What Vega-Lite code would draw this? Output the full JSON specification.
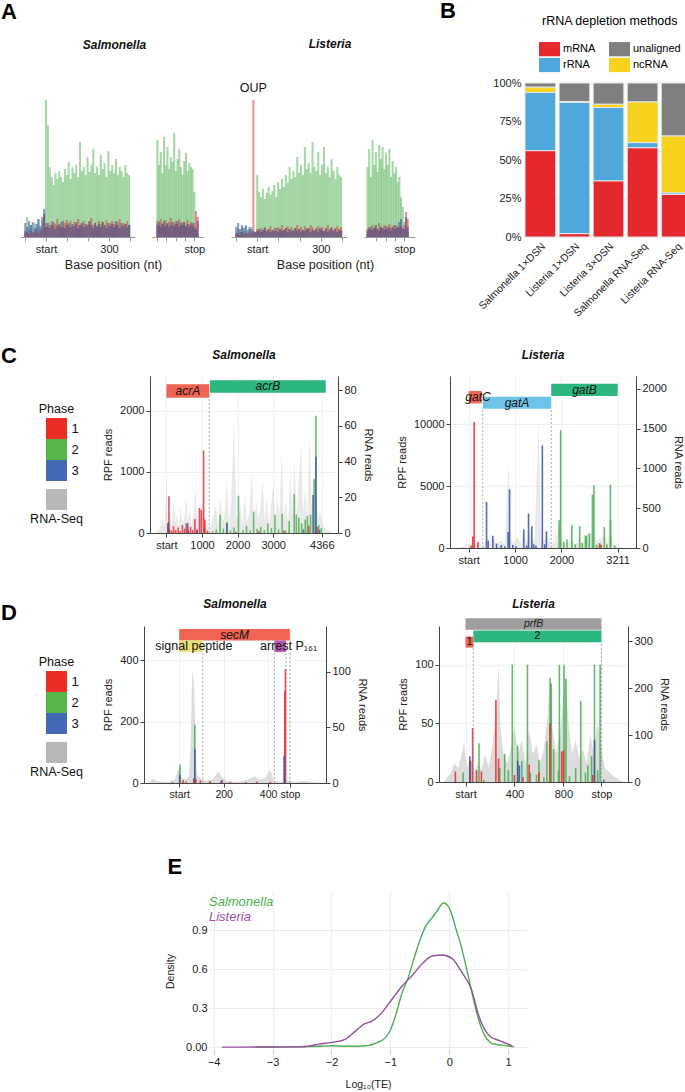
{
"$schema": "https://vega.github.io/schema/vega-lite/v6.json",
"background": "white",
"padding": {"left": 1, "top": 0, "right": 0, "bottom": 0},
"config": {
  "font": "Liberation Sans",
  "view": {"stroke": null},
  "axis": {"labelFontSize": 11, "titleFontSize": 11, "titleFontWeight": "normal", "labelColor": "#222", "titleColor": "#222", "domainColor": "#444", "tickColor": "#444", "tickSize": 4, "gridColor": "#efefef", "grid": false, "labelOverlap": false, "labelFlush": false},
  "title": {"fontSize": 12, "fontWeight": "bold", "fontStyle": "italic", "color": "#111", "frame": "group"}
},
"datasets": {
  "aSS": [
    {"p":-99,"g":6,"r":4,"b":14},{"p":-90,"g":20,"r":5,"b":10},{"p":-81,"g":8,"r":3,"b":16},{"p":-72,"g":12,"r":6,"b":12},{"p":-63,"g":5,"r":4,"b":15},{"p":-54,"g":14,"r":5,"b":9},{"p":-45,"g":10,"r":7,"b":13},{"p":-36,"g":18,"r":4,"b":18},{"p":-27,"g":9,"r":6,"b":11},{"p":-18,"g":16,"r":8,"b":20},{"p":-9,"g":24,"r":22,"b":28},
    {"p":0,"g":137,"r":14,"b":10},{"p":9,"g":112,"r":10,"b":14},{"p":18,"g":70,"r":12,"b":9},{"p":27,"g":60,"r":16,"b":12},{"p":36,"g":52,"r":11,"b":15},{"p":45,"g":64,"r":13,"b":8},{"p":54,"g":58,"r":18,"b":11},{"p":63,"g":66,"r":12,"b":13},{"p":72,"g":60,"r":15,"b":10},{"p":81,"g":55,"r":10,"b":16},{"p":90,"g":68,"r":14,"b":9},{"p":99,"g":62,"r":17,"b":12},{"p":108,"g":75,"r":12,"b":14},{"p":117,"g":58,"r":16,"b":10},{"p":126,"g":70,"r":11,"b":13},{"p":135,"g":64,"r":15,"b":11},{"p":144,"g":72,"r":13,"b":15},{"p":153,"g":60,"r":18,"b":9},{"p":162,"g":95,"r":12,"b":12},{"p":171,"g":66,"r":14,"b":14},{"p":180,"g":70,"r":16,"b":10},{"p":189,"g":62,"r":11,"b":13},{"p":198,"g":80,"r":13,"b":11},{"p":207,"g":65,"r":15,"b":16},{"p":216,"g":72,"r":19,"b":12},{"p":225,"g":88,"r":12,"b":9},{"p":234,"g":64,"r":14,"b":14},{"p":243,"g":70,"r":10,"b":11},{"p":252,"g":62,"r":16,"b":13},{"p":261,"g":82,"r":13,"b":10},{"p":270,"g":68,"r":15,"b":15},{"p":279,"g":74,"r":12,"b":12},{"p":288,"g":60,"r":17,"b":9},{"p":297,"g":86,"r":11,"b":14},{"p":306,"g":66,"r":14,"b":11},{"p":315,"g":72,"r":16,"b":13},{"p":324,"g":64,"r":13,"b":10},{"p":333,"g":78,"r":12,"b":16},{"p":342,"g":62,"r":15,"b":12},{"p":351,"g":70,"r":18,"b":9},{"p":360,"g":66,"r":11,"b":14},{"p":369,"g":60,"r":14,"b":11},{"p":378,"g":72,"r":13,"b":13},{"p":387,"g":64,"r":16,"b":10},{"p":396,"g":62,"r":12,"b":12}
  ],
  "aSP": [
    {"p":-198,"g":97,"r":16,"b":12},{"p":-189,"g":72,"r":12,"b":15},{"p":-180,"g":85,"r":18,"b":10},{"p":-171,"g":64,"r":14,"b":13},{"p":-162,"g":100,"r":11,"b":16},{"p":-153,"g":72,"r":17,"b":11},{"p":-144,"g":90,"r":13,"b":14},{"p":-135,"g":68,"r":15,"b":10},{"p":-126,"g":80,"r":19,"b":12},{"p":-117,"g":75,"r":12,"b":15},{"p":-108,"g":104,"r":14,"b":11},{"p":-99,"g":66,"r":16,"b":13},{"p":-90,"g":78,"r":13,"b":16},{"p":-81,"g":88,"r":18,"b":10},{"p":-72,"g":70,"r":12,"b":14},{"p":-63,"g":62,"r":15,"b":12},{"p":-54,"g":76,"r":14,"b":15},{"p":-45,"g":84,"r":11,"b":11},{"p":-36,"g":66,"r":17,"b":13},{"p":-27,"g":74,"r":13,"b":10},{"p":-18,"g":70,"r":15,"b":12},{"p":-9,"g":68,"r":12,"b":14},{"p":0,"g":45,"r":14,"b":10},{"p":9,"g":6,"r":26,"b":8},{"p":18,"g":4,"r":20,"b":16}
  ],
  "aLS": [
    {"p":-99,"g":4,"r":3,"b":10},{"p":-90,"g":8,"r":4,"b":14},{"p":-81,"g":5,"r":2,"b":8},{"p":-72,"g":10,"r":5,"b":12},{"p":-63,"g":6,"r":3,"b":9},{"p":-54,"g":12,"r":4,"b":11},{"p":-45,"g":4,"r":3,"b":7},{"p":-36,"g":8,"r":6,"b":10},{"p":-27,"g":10,"r":4,"b":8},{"p":-18,"g":6,"r":137,"b":6},{"p":-9,"g":5,"r":5,"b":5},
    {"p":0,"g":62,"r":8,"b":6},{"p":9,"g":45,"r":6,"b":8},{"p":18,"g":40,"r":9,"b":5},{"p":27,"g":48,"r":7,"b":7},{"p":36,"g":38,"r":10,"b":9},{"p":45,"g":44,"r":6,"b":6},{"p":54,"g":50,"r":8,"b":8},{"p":63,"g":42,"r":11,"b":5},{"p":72,"g":46,"r":7,"b":7},{"p":81,"g":52,"r":9,"b":6},{"p":90,"g":40,"r":6,"b":9},{"p":99,"g":55,"r":10,"b":5},{"p":108,"g":48,"r":8,"b":8},{"p":117,"g":58,"r":12,"b":6},{"p":126,"g":50,"r":7,"b":7},{"p":135,"g":62,"r":9,"b":9},{"p":144,"g":54,"r":11,"b":5},{"p":153,"g":70,"r":8,"b":8},{"p":162,"g":58,"r":10,"b":6},{"p":171,"g":66,"r":6,"b":7},{"p":180,"g":60,"r":9,"b":9},{"p":189,"g":80,"r":12,"b":6},{"p":198,"g":64,"r":8,"b":8},{"p":207,"g":72,"r":10,"b":5},{"p":216,"g":62,"r":7,"b":7},{"p":225,"g":90,"r":11,"b":6},{"p":234,"g":68,"r":9,"b":8},{"p":243,"g":74,"r":8,"b":9},{"p":252,"g":64,"r":12,"b":5},{"p":261,"g":95,"r":10,"b":7},{"p":270,"g":70,"r":7,"b":6},{"p":279,"g":66,"r":9,"b":8},{"p":288,"g":85,"r":11,"b":5},{"p":297,"g":62,"r":8,"b":9},{"p":306,"g":72,"r":10,"b":7},{"p":315,"g":90,"r":6,"b":6},{"p":324,"g":64,"r":9,"b":8},{"p":333,"g":70,"r":12,"b":5},{"p":342,"g":60,"r":8,"b":7},{"p":351,"g":78,"r":10,"b":9},{"p":360,"g":66,"r":7,"b":6},{"p":369,"g":58,"r":9,"b":8},{"p":378,"g":70,"r":11,"b":5},{"p":387,"g":62,"r":8,"b":7},{"p":396,"g":60,"r":10,"b":6}
  ],
  "aLP": [
    {"p":-198,"g":70,"r":8,"b":6},{"p":-189,"g":88,"r":10,"b":8},{"p":-180,"g":60,"r":7,"b":10},{"p":-171,"g":97,"r":12,"b":7},{"p":-162,"g":72,"r":9,"b":9},{"p":-153,"g":85,"r":11,"b":12},{"p":-144,"g":65,"r":8,"b":8},{"p":-135,"g":92,"r":14,"b":6},{"p":-126,"g":78,"r":10,"b":10},{"p":-117,"g":90,"r":9,"b":9},{"p":-108,"g":68,"r":12,"b":7},{"p":-99,"g":84,"r":8,"b":11},{"p":-90,"g":72,"r":10,"b":8},{"p":-81,"g":88,"r":13,"b":10},{"p":-72,"g":60,"r":9,"b":6},{"p":-63,"g":76,"r":11,"b":9},{"p":-54,"g":64,"r":8,"b":12},{"p":-45,"g":70,"r":12,"b":8},{"p":-36,"g":55,"r":10,"b":10},{"p":-27,"g":60,"r":9,"b":15},{"p":-18,"g":40,"r":11,"b":18},{"p":-9,"g":30,"r":8,"b":9},{"p":0,"g":15,"r":12,"b":8},{"p":9,"g":6,"r":25,"b":20},{"p":18,"g":4,"r":18,"b":10}
  ],
  "bData": [
    {"s":"Salmonella 1×DSN","t":"mRNA","v":56.1},{"s":"Salmonella 1×DSN","t":"rRNA","v":37.8},{"s":"Salmonella 1×DSN","t":"ncRNA","v":3.5},{"s":"Salmonella 1×DSN","t":"unaligned","v":2.6},
    {"s":"Listeria 1×DSN","t":"mRNA","v":2.2},{"s":"Listeria 1×DSN","t":"rRNA","v":85.2},{"s":"Listeria 1×DSN","t":"ncRNA","v":0.6},{"s":"Listeria 1×DSN","t":"unaligned","v":12.0},
    {"s":"Listeria 3×DSN","t":"mRNA","v":36.5},{"s":"Listeria 3×DSN","t":"rRNA","v":47.6},{"s":"Listeria 3×DSN","t":"ncRNA","v":2.2},{"s":"Listeria 3×DSN","t":"unaligned","v":13.7},
    {"s":"Salmonella RNA-Seq","t":"mRNA","v":58.0},{"s":"Salmonella RNA-Seq","t":"rRNA","v":3.3},{"s":"Salmonella RNA-Seq","t":"ncRNA","v":26.5},{"s":"Salmonella RNA-Seq","t":"unaligned","v":12.2},
    {"s":"Listeria RNA-Seq","t":"mRNA","v":27.6},{"s":"Listeria RNA-Seq","t":"rRNA","v":1.1},{"s":"Listeria RNA-Seq","t":"ncRNA","v":37.0},{"s":"Listeria RNA-Seq","t":"unaligned","v":34.3}
  ],
  "cSB": [
    {"x":1300,"y":30,"ph":"2"},{"x":1400,"y":60,"ph":"2"},{"x":1508,"y":300,"ph":"2"},{"x":1600,"y":70,"ph":"2"},{"x":1700,"y":180,"ph":"2"},{"x":1800,"y":40,"ph":"2"},{"x":1900,"y":90,"ph":"2"},{"x":2025,"y":610,"ph":"2"},{"x":2150,"y":50,"ph":"2"},{"x":2250,"y":120,"ph":"2"},{"x":2350,"y":40,"ph":"2"},{"x":2450,"y":350,"ph":"2"},{"x":2550,"y":70,"ph":"2"},{"x":2650,"y":100,"ph":"2"},{"x":2750,"y":50,"ph":"2"},{"x":2850,"y":160,"ph":"2"},{"x":2950,"y":80,"ph":"2"},{"x":3050,"y":300,"ph":"2"},{"x":3150,"y":60,"ph":"2"},{"x":3250,"y":320,"ph":"2"},{"x":3350,"y":40,"ph":"2"},{"x":3450,"y":200,"ph":"2"},{"x":3590,"y":640,"ph":"2"},{"x":3650,"y":300,"ph":"2"},{"x":3720,"y":250,"ph":"2"},{"x":3800,"y":160,"ph":"2"},{"x":3900,"y":220,"ph":"2"},{"x":3960,"y":280,"ph":"2"},{"x":4050,"y":300,"ph":"2"},{"x":4150,"y":880,"ph":"2"},{"x":4200,"y":1920,"ph":"2"},{"x":4280,"y":130,"ph":"2"},{"x":4350,"y":80,"ph":"2"},{"x":1070,"y":100,"ph":"2"},
    {"x":40,"y":160,"ph":"1"},{"x":71,"y":600,"ph":"1"},{"x":90,"y":60,"ph":"1"},{"x":150,"y":40,"ph":"1"},{"x":200,"y":110,"ph":"1"},{"x":260,"y":50,"ph":"1"},{"x":330,"y":90,"ph":"1"},{"x":390,"y":30,"ph":"1"},{"x":450,"y":130,"ph":"1"},{"x":510,"y":70,"ph":"1"},{"x":560,"y":160,"ph":"1"},{"x":620,"y":40,"ph":"1"},{"x":680,"y":100,"ph":"1"},{"x":740,"y":50,"ph":"1"},{"x":800,"y":230,"ph":"1"},{"x":860,"y":60,"ph":"1"},{"x":930,"y":410,"ph":"1"},{"x":980,"y":380,"ph":"1"},{"x":1045,"y":1350,"ph":"1"},{"x":1080,"y":220,"ph":"1"},{"x":1150,"y":40,"ph":"1"},{"x":1950,"y":20,"ph":"1"},{"x":2600,"y":30,"ph":"1"},{"x":3300,"y":40,"ph":"1"},{"x":4000,"y":120,"ph":"1"},{"x":4240,"y":100,"ph":"1"},
    {"x":55,"y":170,"ph":"3"},{"x":600,"y":160,"ph":"3"},{"x":860,"y":40,"ph":"3"},{"x":1700,"y":160,"ph":"3"},{"x":3850,"y":60,"ph":"3"},{"x":4120,"y":620,"ph":"3"},{"x":4200,"y":1250,"ph":"3"},{"x":4300,"y":50,"ph":"3"}
  ],
  "cSR": [
    {"x":-320,"y":0},{"x":-200,"y":2},{"x":-100,"y":8},{"x":-50,"y":3},{"x":0,"y":30},{"x":40,"y":5},{"x":100,"y":12},{"x":150,"y":4},{"x":200,"y":18},{"x":250,"y":6},{"x":300,"y":10},{"x":350,"y":3},{"x":400,"y":15},{"x":450,"y":5},{"x":500,"y":8},{"x":560,"y":20},{"x":600,"y":6},{"x":650,"y":14},{"x":700,"y":4},{"x":760,"y":10},{"x":820,"y":25},{"x":870,"y":5},{"x":920,"y":18},{"x":980,"y":8},{"x":1040,"y":22},{"x":1100,"y":6},{"x":1160,"y":4},{"x":1220,"y":2},{"x":1300,"y":8},{"x":1380,"y":15},{"x":1450,"y":4},{"x":1520,"y":20},{"x":1580,"y":6},{"x":1640,"y":12},{"x":1700,"y":30},{"x":1760,"y":5},{"x":1820,"y":18},{"x":1900,"y":62},{"x":1960,"y":10},{"x":2020,"y":8},{"x":2080,"y":16},{"x":2140,"y":4},{"x":2200,"y":22},{"x":2260,"y":6},{"x":2330,"y":12},{"x":2400,"y":35},{"x":2460,"y":5},{"x":2520,"y":18},{"x":2580,"y":8},{"x":2640,"y":14},{"x":2700,"y":30},{"x":2760,"y":6},{"x":2820,"y":20},{"x":2880,"y":4},{"x":2940,"y":15},{"x":3000,"y":28},{"x":3060,"y":6},{"x":3120,"y":20},{"x":3180,"y":10},{"x":3240,"y":45},{"x":3300,"y":8},{"x":3360,"y":18},{"x":3420,"y":5},{"x":3480,"y":35},{"x":3540,"y":10},{"x":3600,"y":41},{"x":3660,"y":8},{"x":3720,"y":30},{"x":3780,"y":50},{"x":3840,"y":12},{"x":3900,"y":25},{"x":3960,"y":8},{"x":4020,"y":55},{"x":4080,"y":15},{"x":4140,"y":30},{"x":4200,"y":20},{"x":4260,"y":8},{"x":4320,"y":12},{"x":4400,"y":4},{"x":4500,"y":2},{"x":4680,"y":0}
  ],
  "cLB": [
    {"x":1950,"y":2240,"ph":"2"},{"x":1983,"y":9530,"ph":"2"},{"x":2050,"y":500,"ph":"2"},{"x":2120,"y":700,"ph":"2"},{"x":2224,"y":1840,"ph":"2"},{"x":2300,"y":300,"ph":"2"},{"x":2394,"y":1780,"ph":"2"},{"x":2450,"y":400,"ph":"2"},{"x":2517,"y":1030,"ph":"2"},{"x":2540,"y":950,"ph":"2"},{"x":2600,"y":1160,"ph":"2"},{"x":2668,"y":4320,"ph":"2"},{"x":2700,"y":5080,"ph":"2"},{"x":2760,"y":250,"ph":"2"},{"x":2820,"y":400,"ph":"2"},{"x":2925,"y":1700,"ph":"2"},{"x":2980,"y":300,"ph":"2"},{"x":3055,"y":5130,"ph":"2"},{"x":3060,"y":2240,"ph":"2"},{"x":3150,"y":200,"ph":"2"},
    {"x":50,"y":200,"ph":"1"},{"x":85,"y":945,"ph":"1"},{"x":118,"y":10200,"ph":"1"},{"x":200,"y":490,"ph":"1"},{"x":2830,"y":350,"ph":"1"},{"x":2860,"y":250,"ph":"1"},
    {"x":384,"y":3730,"ph":"3"},{"x":420,"y":600,"ph":"3"},{"x":520,"y":1000,"ph":"3"},{"x":600,"y":350,"ph":"3"},{"x":700,"y":250,"ph":"3"},{"x":780,"y":150,"ph":"3"},{"x":850,"y":1300,"ph":"3"},{"x":881,"y":4750,"ph":"3"},{"x":950,"y":250,"ph":"3"},{"x":1020,"y":150,"ph":"3"},{"x":1187,"y":1510,"ph":"3"},{"x":1250,"y":200,"ph":"3"},{"x":1290,"y":2780,"ph":"3"},{"x":1360,"y":1760,"ph":"3"},{"x":1400,"y":300,"ph":"3"},{"x":1450,"y":200,"ph":"3"},{"x":1588,"y":8320,"ph":"3"},{"x":1640,"y":300,"ph":"3"},{"x":1676,"y":1350,"ph":"3"}
  ],
  "cLR": [
    {"x":-296,"y":0},{"x":-150,"y":15},{"x":-50,"y":30},{"x":0,"y":60},{"x":60,"y":20},{"x":118,"y":90},{"x":160,"y":30},{"x":220,"y":70},{"x":300,"y":20},{"x":384,"y":120},{"x":440,"y":40},{"x":520,"y":150},{"x":600,"y":60},{"x":700,"y":90},{"x":780,"y":40},{"x":860,"y":1086},{"x":900,"y":100},{"x":960,"y":50},{"x":1050,"y":140},{"x":1120,"y":60},{"x":1190,"y":180},{"x":1250,"y":70},{"x":1300,"y":250},{"x":1360,"y":120},{"x":1420,"y":80},{"x":1506,"y":1580},{"x":1560,"y":200},{"x":1620,"y":90},{"x":1700,"y":150},{"x":1760,"y":60},{"x":1850,"y":80},{"x":1950,"y":260},{"x":2000,"y":100},{"x":2080,"y":60},{"x":2150,"y":40},{"x":2224,"y":120},{"x":2300,"y":50},{"x":2394,"y":100},{"x":2450,"y":60},{"x":2517,"y":150},{"x":2600,"y":200},{"x":2668,"y":180},{"x":2700,"y":250},{"x":2760,"y":80},{"x":2850,"y":120},{"x":2925,"y":160},{"x":3000,"y":60},{"x":3055,"y":220},{"x":3120,"y":50},{"x":3200,"y":20},{"x":3300,"y":0}
  ],
  "dSB": [
    {"x":4,"y":60,"ph":"2"},{"x":70,"y":190,"ph":"2"},{"x":140,"y":6,"ph":"2"},{"x":475,"y":16,"ph":"2"},
    {"x":-30,"y":3,"ph":"1"},{"x":17,"y":10,"ph":"1"},{"x":30,"y":5,"ph":"1"},{"x":65,"y":15,"ph":"1"},{"x":75,"y":12,"ph":"1"},{"x":95,"y":8,"ph":"1"},{"x":137,"y":5,"ph":"1"},{"x":187,"y":6,"ph":"1"},{"x":230,"y":4,"ph":"1"},{"x":300,"y":3,"ph":"1"},{"x":350,"y":5,"ph":"1"},{"x":410,"y":4,"ph":"1"},{"x":478,"y":372,"ph":"1"},{"x":475,"y":300,"ph":"1"},
    {"x":2,"y":27,"ph":"3"},{"x":70,"y":111,"ph":"3"},{"x":193,"y":10,"ph":"3"},{"x":472,"y":89,"ph":"3"}
  ],
  "dSR": [
    {"x":-136,"y":0},{"x":-120,"y":4},{"x":-100,"y":2},{"x":-60,"y":1},{"x":-20,"y":3},{"x":0,"y":15},{"x":10,"y":5},{"x":30,"y":3},{"x":45,"y":6},{"x":52,"y":40},{"x":58,"y":95},{"x":62,"y":102},{"x":68,"y":80},{"x":74,"y":30},{"x":80,"y":8},{"x":95,"y":4},{"x":120,"y":2},{"x":150,"y":3},{"x":170,"y":9},{"x":178,"y":10},{"x":190,"y":6},{"x":210,"y":2},{"x":250,"y":1},{"x":290,"y":2},{"x":320,"y":4},{"x":340,"y":6},{"x":360,"y":3},{"x":390,"y":5},{"x":405,"y":11},{"x":415,"y":10},{"x":425,"y":2},{"x":460,"y":1},{"x":480,"y":3},{"x":500,"y":2},{"x":520,"y":1},{"x":560,"y":2},{"x":600,"y":1},{"x":638,"y":0}
  ],
  "dLB": [
    {"x":382,"y":100,"ph":"2"},{"x":506,"y":100,"ph":"2"},{"x":767,"y":100,"ph":"2"},{"x":805,"y":100,"ph":"2"},{"x":1054,"y":100,"ph":"2"},{"x":1100,"y":100,"ph":"2"},{"x":692,"y":88.6,"ph":"2"},{"x":700,"y":84,"ph":"2"},{"x":942,"y":69,"ph":"2"},{"x":821,"y":88,"ph":"2"},{"x":110,"y":33,"ph":"2"},{"x":426,"y":31,"ph":"2"},{"x":665,"y":35,"ph":"2"},{"x":-20,"y":8,"ph":"2"},{"x":150,"y":2,"ph":"2"},{"x":280,"y":12,"ph":"2"},{"x":320,"y":24,"ph":"2"},{"x":350,"y":10,"ph":"2"},{"x":460,"y":18,"ph":"2"},{"x":530,"y":8,"ph":"2"},{"x":580,"y":6,"ph":"2"},{"x":600,"y":19,"ph":"2"},{"x":640,"y":4,"ph":"2"},{"x":720,"y":28,"ph":"2"},{"x":760,"y":10,"ph":"2"},{"x":850,"y":5,"ph":"2"},{"x":900,"y":12,"ph":"2"},{"x":980,"y":8,"ph":"2"},{"x":1000,"y":14,"ph":"2"},{"x":1030,"y":22,"ph":"2"},{"x":1080,"y":10,"ph":"2"},
    {"x":-83,"y":9,"ph":"1"},{"x":40,"y":18,"ph":"1"},{"x":58,"y":46,"ph":"1"},{"x":90,"y":10,"ph":"1"},{"x":130,"y":9,"ph":"1"},{"x":248,"y":70,"ph":"1"},{"x":270,"y":20,"ph":"1"},{"x":400,"y":6,"ph":"1"},{"x":470,"y":4,"ph":"1"},{"x":520,"y":15,"ph":"1"},{"x":600,"y":8,"ph":"1"},{"x":690,"y":50,"ph":"1"},{"x":786,"y":26,"ph":"1"},{"x":800,"y":27,"ph":"1"},{"x":1040,"y":6,"ph":"1"},
    {"x":35,"y":22,"ph":"3"},{"x":426,"y":18,"ph":"3"},{"x":440,"y":14,"ph":"3"},{"x":1054,"y":36,"ph":"3"},{"x":1130,"y":2,"ph":"3"}
  ],
  "dLR": [
    {"x":-176,"y":0},{"x":-150,"y":10},{"x":-120,"y":20},{"x":-90,"y":40},{"x":-60,"y":30},{"x":-30,"y":60},{"x":-12,"y":87},{"x":10,"y":30},{"x":40,"y":50},{"x":70,"y":20},{"x":100,"y":40},{"x":130,"y":25},{"x":160,"y":60},{"x":190,"y":30},{"x":220,"y":80},{"x":250,"y":150},{"x":270,"y":247},{"x":285,"y":120},{"x":310,"y":60},{"x":340,"y":40},{"x":370,"y":70},{"x":400,"y":120},{"x":430,"y":60},{"x":460,"y":90},{"x":490,"y":40},{"x":520,"y":110},{"x":550,"y":60},{"x":580,"y":80},{"x":610,"y":40},{"x":640,"y":70},{"x":670,"y":140},{"x":690,"y":225},{"x":710,"y":120},{"x":740,"y":60},{"x":770,"y":100},{"x":800,"y":180},{"x":820,"y":222},{"x":840,"y":130},{"x":870,"y":60},{"x":900,"y":90},{"x":930,"y":50},{"x":960,"y":70},{"x":990,"y":40},{"x":1020,"y":100},{"x":1050,"y":60},{"x":1080,"y":130},{"x":1110,"y":70},{"x":1140,"y":30},{"x":1180,"y":20},{"x":1220,"y":10},{"x":1287,"y":0}
  ],
  "eData": [
    {"o":"Salmonella","x":-3.3,"d":0},{"o":"Salmonella","x":-3.0,"d":0},{"o":"Salmonella","x":-2.5,"d":0.002},{"o":"Salmonella","x":-2.2,"d":0.006},{"o":"Salmonella","x":-2.0,"d":0.01},{"o":"Salmonella","x":-1.8,"d":0.007},{"o":"Salmonella","x":-1.6,"d":0.006},{"o":"Salmonella","x":-1.45,"d":0.01},{"o":"Salmonella","x":-1.36,"d":0.013},{"o":"Salmonella","x":-1.25,"d":0.03},{"o":"Salmonella","x":-1.15,"d":0.05},{"o":"Salmonella","x":-1.08,"d":0.075},{"o":"Salmonella","x":-1.0,"d":0.13},{"o":"Salmonella","x":-0.9,"d":0.26},{"o":"Salmonella","x":-0.8,"d":0.42},{"o":"Salmonella","x":-0.7,"d":0.53},{"o":"Salmonella","x":-0.6,"d":0.68},{"o":"Salmonella","x":-0.5,"d":0.82},{"o":"Salmonella","x":-0.4,"d":0.93},{"o":"Salmonella","x":-0.3,"d":0.99},{"o":"Salmonella","x":-0.2,"d":1.05},{"o":"Salmonella","x":-0.1,"d":1.108},{"o":"Salmonella","x":0.0,"d":1.07},{"o":"Salmonella","x":0.05,"d":1.01},{"o":"Salmonella","x":0.1,"d":0.93},{"o":"Salmonella","x":0.2,"d":0.78},{"o":"Salmonella","x":0.3,"d":0.59},{"o":"Salmonella","x":0.4,"d":0.39},{"o":"Salmonella","x":0.5,"d":0.21},{"o":"Salmonella","x":0.6,"d":0.09},{"o":"Salmonella","x":0.7,"d":0.035},{"o":"Salmonella","x":0.8,"d":0.02},{"o":"Salmonella","x":0.9,"d":0.015},{"o":"Salmonella","x":1.0,"d":0.008},{"o":"Salmonella","x":1.1,"d":0.002},
    {"o":"Listeria","x":-3.86,"d":0},{"o":"Listeria","x":-3.5,"d":0},{"o":"Listeria","x":-3.0,"d":0.001},{"o":"Listeria","x":-2.5,"d":0.003},{"o":"Listeria","x":-2.21,"d":0.023},{"o":"Listeria","x":-1.99,"d":0.036},{"o":"Listeria","x":-1.76,"d":0.062},{"o":"Listeria","x":-1.59,"d":0.125},{"o":"Listeria","x":-1.45,"d":0.177},{"o":"Listeria","x":-1.31,"d":0.2},{"o":"Listeria","x":-1.14,"d":0.267},{"o":"Listeria","x":-0.97,"d":0.37},{"o":"Listeria","x":-0.8,"d":0.47},{"o":"Listeria","x":-0.63,"d":0.55},{"o":"Listeria","x":-0.46,"d":0.64},{"o":"Listeria","x":-0.29,"d":0.7},{"o":"Listeria","x":-0.12,"d":0.708},{"o":"Listeria","x":0.05,"d":0.68},{"o":"Listeria","x":0.22,"d":0.57},{"o":"Listeria","x":0.37,"d":0.45},{"o":"Listeria","x":0.51,"d":0.23},{"o":"Listeria","x":0.68,"d":0.087},{"o":"Listeria","x":0.85,"d":0.05},{"o":"Listeria","x":1.07,"d":0.01}
  ]
},
"spacing": 26,
"resolve": {"scale": {"color": "independent"}},
"vconcat": [
 {
  "spacing": 25,
  "resolve": {"scale": {"color": "independent"}},
  "hconcat": [
   {
    "spacing": 3,
    "resolve": {"scale": {"color": "independent"}},
    "hconcat": [
     {
      "title": {"text": "A", "anchor": "start", "fontSize": 22, "fontWeight": "bold", "fontStyle": "normal", "color": "#000", "offset": 59},
      "width": 16, "height": 1, "data": {"values": []}, "mark": "point", "encoding": {}
     },
     {
      "spacing": 26,
      "resolve": {"scale": {"color": "independent"}},
      "hconcat": [
       {
        "bounds": "flush", "spacing": 17,
        "resolve": {"scale": {"color": "independent"}},
        "hconcat": [
         {
          "title": {"text": "Salmonella", "dx": 37, "offset": 31},
          "width": 115, "height": 154,
          "data": {"name": "aSS"},
          "transform": [{"fold": ["g","r","b"], "as": ["ph","v"]}],
          "mark": {"type": "bar", "size": 2.1, "opacity": 0.55, "clip": true},
          "encoding": {
            "x": {"field": "p", "type": "quantitative", "scale": {"domain": [-100, 400], "nice": false, "zero": false}, "axis": {"values": [-100,0,100,200,300,400], "labelExpr": "datum.value==0?'start':(datum.value==300?'300':'')", "labelOverlap": false, "title": "Base position (nt)", "titleX": 93, "titleFontSize": 12.5, "titlePadding": 4, "domainColor": "#999", "tickColor": "#999"}},
            "y": {"field": "v", "type": "quantitative", "stack": null, "scale": {"domain": [0,154], "nice": false}, "axis": null},
            "color": {"field": "ph", "type": "nominal", "scale": {"domain": ["g","r","b"], "range": ["#5cb85f","#e0383c","#34469e"]}, "legend": null}
          }
         },
         {
          "width": 52, "height": 154,
          "data": {"name": "aSP"},
          "transform": [{"fold": ["g","r","b"], "as": ["ph","v"]}],
          "mark": {"type": "bar", "size": 2.1, "opacity": 0.55, "clip": true},
          "encoding": {
            "x": {"field": "p", "type": "quantitative", "scale": {"domain": [-200, 25], "nice": false, "zero": false}, "axis": {"values": [-200,-150,-100,-50,0], "labelExpr": "datum.value==0?'stop':''", "labelOverlap": false, "title": null, "domainColor": "#999", "tickColor": "#999"}},
            "y": {"field": "v", "type": "quantitative", "stack": null, "scale": {"domain": [0,154], "nice": false}, "axis": null},
            "color": {"field": "ph", "type": "nominal", "scale": {"domain": ["g","r","b"], "range": ["#5cb85f","#e0383c","#34469e"]}, "legend": null}
          }
         }
        ]
       },
       {
        "bounds": "flush", "spacing": 17,
        "resolve": {"scale": {"color": "independent"}},
        "hconcat": [
         {
          "title": {"text": "Listeria", "dx": 41, "offset": 31},
          "width": 116, "height": 154,
          "layer": [
           {
            "data": {"name": "aLS"},
            "transform": [{"fold": ["g","r","b"], "as": ["ph","v"]}],
            "mark": {"type": "bar", "size": 2.1, "opacity": 0.55, "clip": true},
            "encoding": {
              "x": {"field": "p", "type": "quantitative", "scale": {"domain": [-100, 400], "nice": false, "zero": false}, "axis": {"values": [-100,0,100,200,300,400], "labelExpr": "datum.value==0?'start':(datum.value==300?'300':'')", "labelOverlap": false, "title": "Base position (nt)", "titleX": 94, "titleFontSize": 12.5, "titlePadding": 4, "domainColor": "#999", "tickColor": "#999"}},
              "y": {"field": "v", "type": "quantitative", "stack": null, "scale": {"domain": [0,154], "nice": false}, "axis": null},
              "color": {"field": "ph", "type": "nominal", "scale": {"domain": ["g","r","b"], "range": ["#5cb85f","#e0383c","#34469e"]}, "legend": null}
            }
           },
           {
            "data": {"name": "aLS"},
            "transform": [{"filter": "datum.r > 100"}],
            "mark": {"type": "text", "dy": -12, "fontSize": 12.5, "color": "#111"},
            "encoding": {
              "x": {"field": "p", "type": "quantitative", "axis": {"values": [-100,0,100,200,300,400], "labelExpr": "datum.value==0?'start':(datum.value==300?'300':'')", "labelOverlap": false, "title": "Base position (nt)", "titleX": 94, "titleFontSize": 12.5, "titlePadding": 4, "domainColor": "#999", "tickColor": "#999"}},
              "y": {"field": "r", "type": "quantitative", "axis": null},
              "text": {"value": "OUP"}
            }
           }
          ]
         },
         {
          "width": 51, "height": 154,
          "data": {"name": "aLP"},
          "transform": [{"fold": ["g","r","b"], "as": ["ph","v"]}],
          "mark": {"type": "bar", "size": 2.1, "opacity": 0.55, "clip": true},
          "encoding": {
            "x": {"field": "p", "type": "quantitative", "scale": {"domain": [-190, 30], "nice": false, "zero": false}, "axis": {"values": [-150,-100,-50,0], "labelExpr": "datum.value==0?'stop':''", "labelOverlap": false, "title": null, "domainColor": "#999", "tickColor": "#999"}},
            "y": {"field": "v", "type": "quantitative", "stack": null, "scale": {"domain": [0,154], "nice": false}, "axis": null},
            "color": {"field": "ph", "type": "nominal", "scale": {"domain": ["g","r","b"], "range": ["#5cb85f","#e0383c","#34469e"]}, "legend": null}
          }
         }
        ]
       }
      ]
     }
    ]
   },
   {
    "title": {"text": "B", "anchor": "start", "frame": "group", "fontSize": 22, "fontWeight": "bold", "fontStyle": "normal", "color": "#000", "dx": -85, "offset": -8},
    "width": 167, "height": 154,
    "data": {"name": "bData"},
    "transform": [{"calculate": "indexof(['mRNA','rRNA','ncRNA','unaligned'], datum.t)", "as": "o"}],
    "mark": {"type": "bar", "stroke": "#e6e6e6", "strokeWidth": 1},
    "encoding": {
      "x": {"field": "s", "type": "nominal", "sort": null, "scale": {"paddingInner": 0.1, "paddingOuter": 0}, "axis": {"title": null, "labelAngle": -45, "labelFontSize": 10.5, "ticks": false, "domain": false, "grid": true, "labelPadding": 4}},
      "y": {"field": "v", "type": "quantitative", "stack": "zero", "scale": {"domain": [0, 100], "nice": false}, "axis": {"title": null, "values": [0,25,50,75,100], "labelExpr": "datum.value + '%'", "ticks": false, "domain": false, "grid": true, "labelPadding": 4}},
      "color": {"field": "t", "type": "nominal", "scale": {"domain": ["mRNA","rRNA","unaligned","ncRNA"], "range": ["#e5282e","#4ea8dc","#7f7f7f","#f7d21e"]}, "legend": {"title": "rRNA depletion methods", "orient": "none", "legendX": 17, "legendY": -68, "columns": 2, "symbolType": "M-1.4,-0.95H1.4V0.95H-1.4Z", "symbolSize": 225, "symbolStrokeWidth": 0, "symbolOpacity": 1, "labelFontSize": 11, "labelOffset": 6, "titleFontSize": 12.5, "titleFontWeight": "normal", "titleAnchor": "start", "titlePadding": 14, "columnPadding": 13, "rowPadding": 1}},
      "order": {"field": "o", "type": "quantitative"}
    }
   }
  ]
 },
 {
  "spacing": 33,
  "resolve": {"scale": {"color": "independent"}},
  "vconcat": [
   {
    "spacing": 13,
    "resolve": {"scale": {"color": "independent"}},
    "hconcat": [
     {
      "title": {"text": "C", "anchor": "start", "fontSize": 22, "fontWeight": "bold", "fontStyle": "normal", "color": "#000", "offset": 8},
      "width": 16, "height": 1, "data": {"values": []}, "mark": "point", "encoding": {}
     },
     {
      "spacing": 19,
      "resolve": {"scale": {"color": "independent"}},
      "hconcat": [
       {
        "bounds": "flush", "spacing": 8,
        "resolve": {"scale": {"color": "independent"}},
        "vconcat": [
         {"width": 21, "height": 34, "data": {"values": []}, "mark": "point", "encoding": {}},
         {
          "title": {"text": "Phase", "fontSize": 12.5, "fontWeight": "normal", "fontStyle": "normal", "offset": 3},
          "width": 21, "height": 63,
          "data": {"values": [{"ph":"1"},{"ph":"2"},{"ph":"3"}]},
          "mark": {"type": "rect"},
          "encoding": {
            "y": {"field": "ph", "type": "ordinal", "scale": {"paddingInner": 0, "paddingOuter": 0}, "axis": {"orient": "right", "domain": false, "ticks": false, "title": null, "labelFontSize": 13, "labelPadding": 4, "labelColor": "#111"}},
            "color": {"field": "ph", "type": "nominal", "scale": {"domain": ["1","2","3"], "range": ["#ec2d27","#55b64a","#4568b4"]}, "legend": null}
          }
         },
         {
          "title": {"text": "RNA-Seq", "orient": "bottom", "fontSize": 12.5, "fontWeight": "normal", "fontStyle": "normal", "offset": 3},
          "width": 21, "height": 21,
          "data": {"values": [{"k": "RNA-Seq"}]},
          "mark": {"type": "rect", "color": "#b8b8b8"},
          "encoding": {"y": {"field": "k", "type": "nominal", "scale": {"paddingInner": 0, "paddingOuter": 0}, "axis": null}}
         }
        ]
       },
       {
        "bounds": "flush", "spacing": 112,
        "resolve": {"scale": {"color": "independent"}},
        "hconcat": [
         {
          "title": {"text": "Salmonella", "offset": 14},
          "width": 188, "height": 157,
          "resolve": {"scale": {"y": "independent"}},
          "layer": [
           {
            "data": {"name": "cSR"},
            "mark": {"type": "area", "color": "#c8c8c8", "opacity": 0.4},
            "encoding": {
              "x": {"field": "x", "type": "quantitative", "title": null, "scale": {"domain": [-320, 4680], "nice": false, "zero": false}, "axis": {"values": [0,1000,2000,3000,4366], "format": "d", "labelExpr": "datum.value==0?'start':datum.label", "labelOverlap": false, "grid": true, "title": null}},
              "y": {"field": "y", "type": "quantitative", "title": null, "scale": {"domain": [0, 88], "nice": false}, "axis": {"orient": "right", "values": [0,20,40,60,80], "format": "d", "title": "RNA reads", "titlePadding": 6}}
            }
           },
           {
            "layer": [
             {
              "data": {"name": "cSB"},
              "mark": {"type": "bar", "size": 1.6, "opacity": 0.8},
              "encoding": {
                "x": {"field": "x", "type": "quantitative", "title": null},
                "y": {"field": "y", "type": "quantitative", "stack": null, "title": null, "scale": {"domain": [0, 2570], "nice": false}, "axis": {"orient": "left", "values": [0,500,1000,1500,2000], "format": "d", "title": "RPF reads", "grid": true, "titlePadding": 6}},
                "color": {"field": "ph", "type": "nominal", "scale": {"domain": ["1","2","3"], "range": ["#e8282b","#47ae4d","#3552a6"]}, "legend": null}
              }
             },
             {
              "data": {"values": [{"x": 1205}]},
              "mark": {"type": "rule", "strokeDash": [2,2], "color": "#9a9a9a", "strokeWidth": 0.8},
              "encoding": {"x": {"field": "x", "type": "quantitative", "title": null}, "y": {"datum": 0}, "y2": {"datum": 2216}}
             },
             {
              "data": {"values": [{"g": "acrA", "x": 0, "xe": 1205}]},
              "mark": {"type": "rect", "color": "#ef6452"},
              "encoding": {"x": {"field": "x", "type": "quantitative", "title": null}, "x2": {"field": "xe"}, "y": {"datum": 2216}, "y2": {"datum": 2435}}
             },
             {
              "data": {"values": [{"g": "acrB", "x": 1223, "xe": 4476}]},
              "mark": {"type": "rect", "color": "#2db67d"},
              "encoding": {"x": {"field": "x", "type": "quantitative", "title": null}, "x2": {"field": "xe"}, "y": {"datum": 2297}, "y2": {"datum": 2500}}
             },
             {
              "data": {"values": [{"g": "acrA", "x": 0, "xe": 1205}]},
              "transform": [{"calculate": "(datum.x + datum.xe) / 2", "as": "m"}],
              "mark": {"type": "text", "fontStyle": "italic", "fontSize": 12, "color": "#111"},
              "encoding": {"x": {"field": "m", "type": "quantitative", "title": null}, "y": {"datum": 2325}, "text": {"field": "g"}}
             },
             {
              "data": {"values": [{"g": "acrB", "x": 1223, "xe": 4476}]},
              "transform": [{"calculate": "(datum.x + datum.xe) / 2", "as": "m"}],
              "mark": {"type": "text", "fontStyle": "italic", "fontSize": 12, "color": "#111"},
              "encoding": {"x": {"field": "m", "type": "quantitative", "title": null}, "y": {"datum": 2400}, "text": {"field": "g"}}
             }
            ]
           }
          ]
         },
         {
          "title": {"text": "Listeria", "offset": 14},
          "width": 186, "height": 172,
          "resolve": {"scale": {"y": "independent"}},
          "layer": [
           {
            "data": {"name": "cLR"},
            "mark": {"type": "area", "color": "#c8c8c8", "opacity": 0.4},
            "encoding": {
              "x": {"field": "x", "type": "quantitative", "title": null, "scale": {"domain": [-296, 3500], "nice": false, "zero": false}, "axis": {"values": [0,1000,2000,3211], "format": "d", "labelExpr": "datum.value==0?'start':datum.label", "labelOverlap": false, "grid": true, "title": null}},
              "y": {"field": "y", "type": "quantitative", "title": null, "scale": {"domain": [0, 2159], "nice": false}, "axis": {"orient": "right", "values": [0,500,1000,1500,2000], "format": "d", "title": "RNA reads", "titlePadding": 6}}
            }
           },
           {
            "layer": [
             {
              "data": {"name": "cLB"},
              "mark": {"type": "bar", "size": 1.6, "opacity": 0.85},
              "encoding": {
                "x": {"field": "x", "type": "quantitative", "title": null},
                "y": {"field": "y", "type": "quantitative", "stack": null, "title": null, "scale": {"domain": [0, 13915], "nice": false}, "axis": {"orient": "left", "values": [0,5000,10000], "format": "d", "title": "RPF reads", "grid": true, "titlePadding": 6}},
                "color": {"field": "ph", "type": "nominal", "scale": {"domain": ["1","2","3"], "range": ["#e8282b","#47ae4d","#3552a6"]}, "legend": null}
              }
             },
             {
              "data": {"values": [{"x": 302}, {"x": 1780}]},
              "mark": {"type": "rule", "strokeDash": [2,2], "color": "#9a9a9a", "strokeWidth": 0.8},
              "encoding": {"x": {"field": "x", "type": "quantitative", "title": null}, "y": {"datum": 0}, "y2": {"datum": 11265}}
             },
             {
              "data": {"values": [{"g": "gatC", "x": 0, "xe": 282}]},
              "mark": {"type": "rect", "color": "#ef6452"},
              "encoding": {"x": {"field": "x", "type": "quantitative", "title": null}, "x2": {"field": "xe"}, "y": {"datum": 11700}, "y2": {"datum": 12700}}
             },
             {
              "data": {"values": [{"g": "gatA", "x": 302, "xe": 1780}]},
              "mark": {"type": "rect", "color": "#6ec4e8"},
              "encoding": {"x": {"field": "x", "type": "quantitative", "title": null}, "x2": {"field": "xe"}, "y": {"datum": 11265}, "y2": {"datum": 12240}}
             },
             {
              "data": {"values": [{"g": "gatB", "x": 1780, "xe": 3214}]},
              "mark": {"type": "rect", "color": "#2db67d"},
              "encoding": {"x": {"field": "x", "type": "quantitative", "title": null}, "x2": {"field": "xe"}, "y": {"datum": 12290}, "y2": {"datum": 13290}}
             },
             {
              "data": {"values": [{"g": "gatC", "x": 0, "xe": 282}]},
              "transform": [{"calculate": "(datum.x + datum.xe) / 2 + 60", "as": "m"}],
              "mark": {"type": "text", "fontStyle": "italic", "fontSize": 12, "color": "#111"},
              "encoding": {"x": {"field": "m", "type": "quantitative", "title": null}, "y": {"datum": 12200}, "text": {"field": "g"}}
             },
             {
              "data": {"values": [{"g": "gatA", "x": 302, "xe": 1780}]},
              "transform": [{"calculate": "(datum.x + datum.xe) / 2", "as": "m"}],
              "mark": {"type": "text", "fontStyle": "italic", "fontSize": 12, "color": "#111"},
              "encoding": {"x": {"field": "m", "type": "quantitative", "title": null}, "y": {"datum": 11750}, "text": {"field": "g"}}
             },
             {
              "data": {"values": [{"g": "gatB", "x": 1780, "xe": 3214}]},
              "transform": [{"calculate": "(datum.x + datum.xe) / 2", "as": "m"}],
              "mark": {"type": "text", "fontStyle": "italic", "fontSize": 12, "color": "#111"},
              "encoding": {"x": {"field": "m", "type": "quantitative", "title": null}, "y": {"datum": 12790}, "text": {"field": "g"}}
             }
            ]
           }
          ]
         }
        ]
       }
      ]
     }
    ]
   },
   {
    "spacing": 56,
    "resolve": {"scale": {"color": "independent"}},
    "vconcat": [
     {
      "spacing": 13,
      "resolve": {"scale": {"color": "independent"}},
      "hconcat": [
       {
        "title": {"text": "D", "anchor": "start", "fontSize": 22, "fontWeight": "bold", "fontStyle": "normal", "color": "#000", "offset": 1},
        "width": 16, "height": 1, "data": {"values": []}, "mark": "point", "encoding": {}
       },
       {
        "spacing": 19,
        "resolve": {"scale": {"color": "independent"}},
        "hconcat": [
         {
          "bounds": "flush", "spacing": 8,
          "resolve": {"scale": {"color": "independent"}},
          "vconcat": [
           {"width": 21, "height": 37, "data": {"values": []}, "mark": "point", "encoding": {}},
           {
            "title": {"text": "Phase", "fontSize": 12.5, "fontWeight": "normal", "fontStyle": "normal", "offset": 3},
            "width": 21, "height": 63,
            "data": {"values": [{"ph":"1"},{"ph":"2"},{"ph":"3"}]},
            "mark": {"type": "rect"},
            "encoding": {
              "y": {"field": "ph", "type": "ordinal", "scale": {"paddingInner": 0, "paddingOuter": 0}, "axis": {"orient": "right", "domain": false, "ticks": false, "title": null, "labelFontSize": 13, "labelPadding": 4, "labelColor": "#111"}},
              "color": {"field": "ph", "type": "nominal", "scale": {"domain": ["1","2","3"], "range": ["#ec2d27","#55b64a","#4568b4"]}, "legend": null}
            }
           },
           {
            "title": {"text": "RNA-Seq", "orient": "bottom", "fontSize": 12.5, "fontWeight": "normal", "fontStyle": "normal", "offset": 3},
            "width": 21, "height": 21,
            "data": {"values": [{"k": "RNA-Seq"}]},
            "mark": {"type": "rect", "color": "#b8b8b8"},
            "encoding": {"y": {"field": "k", "type": "nominal", "scale": {"paddingInner": 0, "paddingOuter": 0}, "axis": null}}
           }
          ]
         },
         {
          "bounds": "flush", "spacing": 113,
          "resolve": {"scale": {"color": "independent"}},
          "hconcat": [
           {
            "title": {"text": "Salmonella", "offset": 15},
            "width": 182, "height": 157,
            "resolve": {"scale": {"y": "independent"}},
            "layer": [
             {
              "data": {"name": "dSR"},
              "mark": {"type": "area", "color": "#c4c4c4", "opacity": 0.6},
              "encoding": {
                "x": {"field": "x", "type": "quantitative", "title": null, "scale": {"domain": [-136, 638], "nice": false, "zero": false}, "axis": {"values": [0,200,400,498], "labelExpr": "datum.value==0?'start':(datum.value==498?'stop':datum.label)", "labelOverlap": false, "labelFontSize": 10.5, "grid": true, "title": null}},
                "y": {"field": "y", "type": "quantitative", "title": null, "scale": {"domain": [0, 141], "nice": false}, "axis": {"orient": "right", "values": [0,50,100], "format": "d", "title": "RNA reads", "titlePadding": 6}}
              }
             },
             {
              "layer": [
               {
                "data": {"name": "dSB"},
                "mark": {"type": "bar", "size": 1.6, "opacity": 0.85},
                "encoding": {
                  "x": {"field": "x", "type": "quantitative", "title": null, "axis": {"labelOverlap": false}},
                  "y": {"field": "y", "type": "quantitative", "stack": null, "title": null, "scale": {"domain": [0, 512], "nice": false}, "axis": {"orient": "left", "values": [0,100,200,300,400], "format": "d", "title": "RPF reads", "grid": true, "titlePadding": 6}},
                  "color": {"field": "ph", "type": "nominal", "scale": {"domain": ["1","2","3"], "range": ["#e8282b","#47ae4d","#3552a6"]}, "legend": null}
                }
               },
               {
                "data": {"values": [{"x": 106}, {"x": 428}, {"x": 481}, {"x": 498}]},
                "mark": {"type": "rule", "strokeDash": [2,2], "color": "#9a9a9a", "strokeWidth": 0.8},
                "encoding": {"x": {"field": "x", "type": "quantitative", "title": null, "axis": {"labelOverlap": false}}, "y": {"datum": 0}, "y2": {"datum": 427}}
               },
               {
                "data": {"values": [{"g": "secM", "x": 0, "xe": 498}]},
                "mark": {"type": "rect", "color": "#ef6452"},
                "encoding": {"x": {"field": "x", "type": "quantitative", "title": null, "axis": {"labelOverlap": false}}, "x2": {"field": "xe"}, "y": {"datum": 465}, "y2": {"datum": 502}}
               },
               {
                "data": {"values": [{"g": "signal peptide", "x": 0, "xe": 106}]},
                "mark": {"type": "rect", "color": "#ebdf7c"},
                "encoding": {"x": {"field": "x", "type": "quantitative", "title": null, "axis": {"labelOverlap": false}}, "x2": {"field": "xe"}, "y": {"datum": 427}, "y2": {"datum": 465}}
               },
               {
                "data": {"values": [{"g": "arrest P₁₆₁", "x": 428, "xe": 481}]},
                "mark": {"type": "rect", "color": "#b65bb0"},
                "encoding": {"x": {"field": "x", "type": "quantitative", "title": null, "axis": {"labelOverlap": false}}, "x2": {"field": "xe"}, "y": {"datum": 427}, "y2": {"datum": 465}}
               },
               {
                "data": {"values": [{"g": "secM", "x": 0, "xe": 498}]},
                "transform": [{"calculate": "(datum.x + datum.xe) / 2", "as": "m"}],
                "mark": {"type": "text", "fontStyle": "italic", "fontSize": 12, "color": "#111"},
                "encoding": {"x": {"field": "m", "type": "quantitative", "title": null, "axis": {"labelOverlap": false}}, "y": {"datum": 483}, "text": {"field": "g"}}
               },
               {
                "data": {"values": [{"g": "signal peptide", "x": 0, "xe": 106}]},
                "transform": [{"calculate": "(datum.x + datum.xe) / 2 + 13", "as": "m"}],
                "mark": {"type": "text", "fontSize": 12.5, "color": "#111"},
                "encoding": {"x": {"field": "m", "type": "quantitative", "title": null, "axis": {"labelOverlap": false}}, "y": {"datum": 447}, "text": {"field": "g"}}
               },
               {
                "data": {"values": [{"g": "arrest P₁₆₁", "x": 428, "xe": 481}]},
                "transform": [{"calculate": "(datum.x + datum.xe) / 2 + 38", "as": "m"}],
                "mark": {"type": "text", "fontSize": 12.5, "color": "#111"},
                "encoding": {"x": {"field": "m", "type": "quantitative", "title": null, "axis": {"labelOverlap": false}}, "y": {"datum": 447}, "text": {"field": "g"}}
               }
              ]
             }
            ]
           },
           {
            "title": {"text": "Listeria", "offset": 7},
            "width": 189, "height": 156,
            "resolve": {"scale": {"y": "independent"}},
            "layer": [
             {
              "data": {"name": "dLR"},
              "mark": {"type": "area", "color": "#c4c4c4", "opacity": 0.6},
              "encoding": {
                "x": {"field": "x", "type": "quantitative", "title": null, "scale": {"domain": [-176, 1287], "nice": false, "zero": false}, "axis": {"values": [0,200,400,600,800,1000,1111], "labelExpr": "datum.value==0?'start':(datum.value==1111?'stop':(datum.value==400||datum.value==800?datum.label:''))", "labelOverlap": false, "grid": true, "title": null}},
                "y": {"field": "y", "type": "quantitative", "title": null, "scale": {"domain": [0, 333], "nice": false}, "axis": {"orient": "right", "values": [0,100,200,300], "format": "d", "title": "RNA reads", "titlePadding": 6}}
              }
             },
             {
              "layer": [
               {
                "data": {"name": "dLB"},
                "mark": {"type": "bar", "size": 1.6, "opacity": 0.85},
                "encoding": {
                  "x": {"field": "x", "type": "quantitative", "title": null},
                  "y": {"field": "y", "type": "quantitative", "stack": null, "title": null, "scale": {"domain": [0, 133], "nice": false}, "axis": {"orient": "left", "values": [0,50,100], "format": "d", "title": "RPF reads", "grid": true, "titlePadding": 6}},
                  "color": {"field": "ph", "type": "nominal", "scale": {"domain": ["1","2","3"], "range": ["#e8282b","#47ae4d","#3552a6"]}, "legend": null}
                }
               },
               {
                "data": {"values": [{"x": 64}, {"x": 1111}]},
                "mark": {"type": "rule", "strokeDash": [2,2], "color": "#9a9a9a", "strokeWidth": 0.8},
                "encoding": {"x": {"field": "x", "type": "quantitative", "title": null}, "y": {"datum": 0}, "y2": {"datum": 119}}
               },
               {
                "data": {"values": [{"g": "prfB", "x": 0, "xe": 1111}]},
                "mark": {"type": "rect", "color": "#9e9e9e"},
                "encoding": {"x": {"field": "x", "type": "quantitative", "title": null}, "x2": {"field": "xe"}, "y": {"datum": 129.7}, "y2": {"datum": 139.7}}
               },
               {
                "data": {"values": [{"g": "2", "x": 64, "xe": 1111}]},
                "mark": {"type": "rect", "color": "#2db67d"},
                "encoding": {"x": {"field": "x", "type": "quantitative", "title": null}, "x2": {"field": "xe"}, "y": {"datum": 119.2}, "y2": {"datum": 129.1}}
               },
               {
                "data": {"values": [{"g": "1", "x": 0, "xe": 64}]},
                "mark": {"type": "rect", "color": "#ef6452"},
                "encoding": {"x": {"field": "x", "type": "quantitative", "title": null}, "x2": {"field": "xe"}, "y": {"datum": 114.6}, "y2": {"datum": 124}}
               },
               {
                "data": {"values": [{"g": "prfB", "x": 0, "xe": 1111}]},
                "transform": [{"calculate": "(datum.x + datum.xe) / 2", "as": "m"}],
                "mark": {"type": "text", "fontStyle": "italic", "fontSize": 10.5, "color": "#222"},
                "encoding": {"x": {"field": "m", "type": "quantitative", "title": null}, "y": {"datum": 134.7}, "text": {"field": "g"}}
               },
               {
                "data": {"values": [{"g": "2", "x": 64, "xe": 1111}]},
                "transform": [{"calculate": "(datum.x + datum.xe) / 2", "as": "m"}],
                "mark": {"type": "text", "fontSize": 11, "color": "#111"},
                "encoding": {"x": {"field": "m", "type": "quantitative", "title": null}, "y": {"datum": 124.6}, "text": {"field": "g"}}
               },
               {
                "data": {"values": [{"g": "1", "x": 0, "xe": 64}]},
                "transform": [{"calculate": "(datum.x + datum.xe) / 2", "as": "m"}],
                "mark": {"type": "text", "fontSize": 11, "color": "#111"},
                "encoding": {"x": {"field": "m", "type": "quantitative", "title": null}, "y": {"datum": 119.3}, "text": {"field": "g"}}
               }
              ]
             }
            ]
           }
          ]
         }
        ]
       }
      ]
     },
     {
      "spacing": 0,
      "resolve": {"scale": {"color": "independent"}},
      "hconcat": [
       {
        "width": 164, "height": 10,
        "data": {"values": []},
        "mark": "point",
        "encoding": {},
        "view": {"fill": "white"}
       },
       {
        "title": {"text": "E", "anchor": "start", "frame": "bounds", "fontSize": 22, "fontWeight": "bold", "fontStyle": "normal", "color": "#000", "dx": 2, "offset": 12},
        "width": 318, "height": 160,
        "layer": [
         {
          "data": {"name": "eData"},
          "mark": {"type": "line", "strokeWidth": 1.4, "interpolate": "monotone"},
          "encoding": {
            "x": {"field": "x", "type": "quantitative", "scale": {"domain": [-4.08, 1.32], "nice": false, "zero": false}, "axis": {"values": [-4,-3.5,-3,-2.5,-2,-1.5,-1,-0.5,0,0.5,1], "format": "d", "labelExpr": "datum.value % 1 == 0 ? datum.label : ''", "labelOverlap": false, "title": "Log₁₀(TE)", "titleFontSize": 10.5, "grid": true, "gridColor": "#ebebeb", "domain": false, "ticks": true, "tickColor": "#bbb", "tickSize": 3, "titlePadding": 12}},
            "y": {"field": "d", "type": "quantitative", "scale": {"domain": [-0.03, 1.2], "nice": false, "zero": false}, "axis": {"values": [0,0.15,0.3,0.45,0.6,0.75,0.9,1.05], "labelExpr": "datum.value==0?'0.00':((datum.value==0.3||datum.value==0.6||datum.value==0.9)?datum.label:'')", "labelOverlap": false, "title": "Density", "titleFontSize": 10.5, "domain": false, "ticks": false, "grid": true, "gridColor": "#ebebeb", "titlePadding": 10}},
            "color": {"field": "o", "type": "nominal", "scale": {"domain": ["Salmonella","Listeria"], "range": ["#4cb050","#984ea3"]}, "legend": null}
          }
         },
         {
          "data": {"values": [{"o": "Salmonella"}]},
          "mark": {"type": "text", "align": "left", "fontStyle": "italic", "fontSize": 13},
          "encoding": {"x": {"datum": -4.08}, "y": {"datum": 1.115}, "text": {"field": "o"}, "color": {"field": "o", "type": "nominal"}}
         },
         {
          "data": {"values": [{"o": "Listeria"}]},
          "mark": {"type": "text", "align": "left", "fontStyle": "italic", "fontSize": 13},
          "encoding": {"x": {"datum": -4.08}, "y": {"datum": 1.0}, "text": {"field": "o"}, "color": {"field": "o", "type": "nominal"}}
         }
        ]
       }
      ]
     }
    ]
   }
  ]
 }
]
}
